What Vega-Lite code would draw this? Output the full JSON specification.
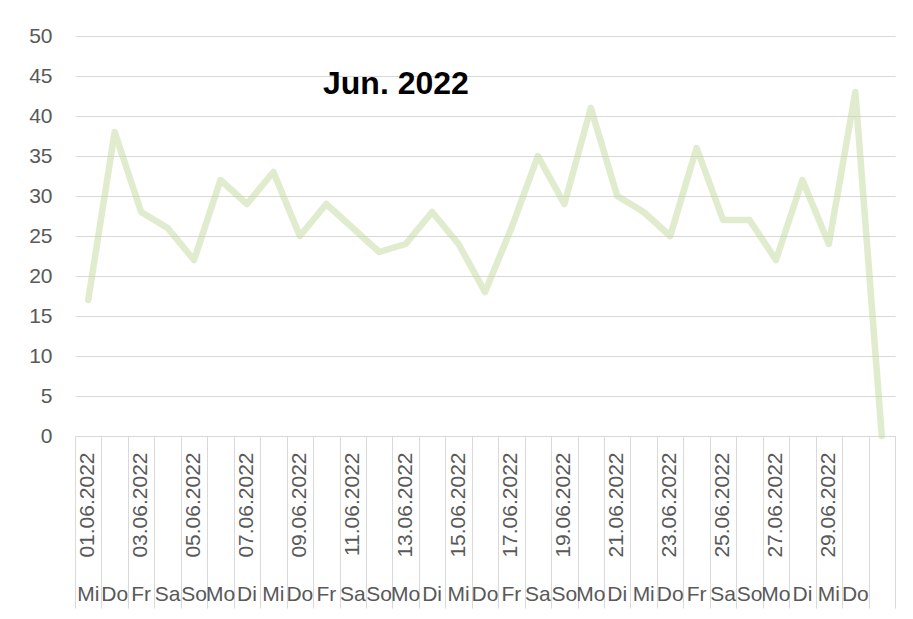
{
  "$schema": "https://vega.github.io/schema/vega-lite/v6.json",
  "width": 820,
  "height": 400,
  "autosize": "none",
  "padding": {"left": 75, "top": 36, "right": 18, "bottom": 183},
  "background": "white",
  "config": {"view": {"stroke": null}, "font": "Liberation Sans"},
  "title": {"text": "Jun. 2022", "anchor": "start", "frame": "group", "dx": 248, "offset": -76, "fontSize": 32, "fontWeight": "bold", "color": "black", "font": "Liberation Sans"},
  "data": {"values": [
    {"date": "2022-06-01", "value": 17},
    {"date": "2022-06-02", "value": 38},
    {"date": "2022-06-03", "value": 28},
    {"date": "2022-06-04", "value": 26},
    {"date": "2022-06-05", "value": 22},
    {"date": "2022-06-06", "value": 32},
    {"date": "2022-06-07", "value": 29},
    {"date": "2022-06-08", "value": 33},
    {"date": "2022-06-09", "value": 25},
    {"date": "2022-06-10", "value": 29},
    {"date": "2022-06-11", "value": 26},
    {"date": "2022-06-12", "value": 23},
    {"date": "2022-06-13", "value": 24},
    {"date": "2022-06-14", "value": 28},
    {"date": "2022-06-15", "value": 24},
    {"date": "2022-06-16", "value": 18},
    {"date": "2022-06-17", "value": 26},
    {"date": "2022-06-18", "value": 35},
    {"date": "2022-06-19", "value": 29},
    {"date": "2022-06-20", "value": 41},
    {"date": "2022-06-21", "value": 30},
    {"date": "2022-06-22", "value": 28},
    {"date": "2022-06-23", "value": 25},
    {"date": "2022-06-24", "value": 36},
    {"date": "2022-06-25", "value": 27},
    {"date": "2022-06-26", "value": 27},
    {"date": "2022-06-27", "value": 22},
    {"date": "2022-06-28", "value": 32},
    {"date": "2022-06-29", "value": 24},
    {"date": "2022-06-30", "value": 43},
    {"date": "2022-07-01", "value": 0}
  ]},
  "encoding": {
    "y": {"field": "value", "type": "quantitative", "scale": {"domain": [0, 50]},
      "axis": {"title": null, "values": [0, 5, 10, 15, 20, 25, 30, 35, 40, 45, 50], "grid": true, "gridColor": "#d9d9d9", "gridWidth": 1, "domain": false, "ticks": false, "labelFontSize": 21, "labelColor": "#595959", "labelPadding": 23, "labelFont": "Liberation Sans"}}
  },
  "layer": [
    {
      "mark": {"type": "line", "strokeOpacity": 0},
      "encoding": {
        "x": {"field": "date", "timeUnit": "utcyearmonthdate", "type": "ordinal", "bandPosition": 0.5,
          "scale": {"type": "band", "paddingInner": 0, "paddingOuter": 0},
          "axis": {"orient": "bottom", "title": null, "labels": false, "domain": true, "domainColor": "#d9d9d9", "domainWidth": 1, "ticks": true, "tickBand": "extent", "tickSize": 172, "tickColor": "#d9d9d9", "tickWidth": 1, "grid": false}}
      }
    },
    {
      "mark": {"type": "line", "strokeOpacity": 0},
      "encoding": {
        "x": {"field": "date", "timeUnit": "utcyearmonthdate", "type": "ordinal", "bandPosition": 0.5,
          "axis": {"orient": "bottom", "title": null, "domain": false, "ticks": false, "grid": false, "labelAngle": 0, "labelAlign": "center", "labelBaseline": "top", "labelPadding": 147, "labelOverlap": false, "labelFontSize": 21, "labelColor": "#595959", "labelFont": "Liberation Sans",
            "labelExpr": "utcmonth(datum.value) == 5 ? ['So','Mo','Di','Mi','Do','Fr','Sa'][utcday(datum.value)] : ''"}}
      }
    },
    {
      "mark": {"type": "line", "color": "#c4d79b", "opacity": 0.5, "strokeWidth": 6.5, "strokeJoin": "round", "strokeCap": "round"},
      "encoding": {
        "x": {"field": "date", "timeUnit": "utcyearmonthdate", "type": "ordinal", "bandPosition": 0.5,
          "axis": {"orient": "bottom", "title": null, "domain": false, "ticks": false, "grid": false, "labelAngle": 270, "labelAlign": "right", "labelBaseline": "middle", "labelPadding": 16, "labelOverlap": false, "labelFontSize": 21, "labelColor": "#595959", "labelFont": "Liberation Sans",
            "labelExpr": "(utcmonth(datum.value) == 5 && utcdate(datum.value) % 2 == 1) ? utcFormat(datum.value, '%d.%m.%Y') : ''"}}
      }
    }
  ],
  "resolve": {"axis": {"x": "independent"}}
}
